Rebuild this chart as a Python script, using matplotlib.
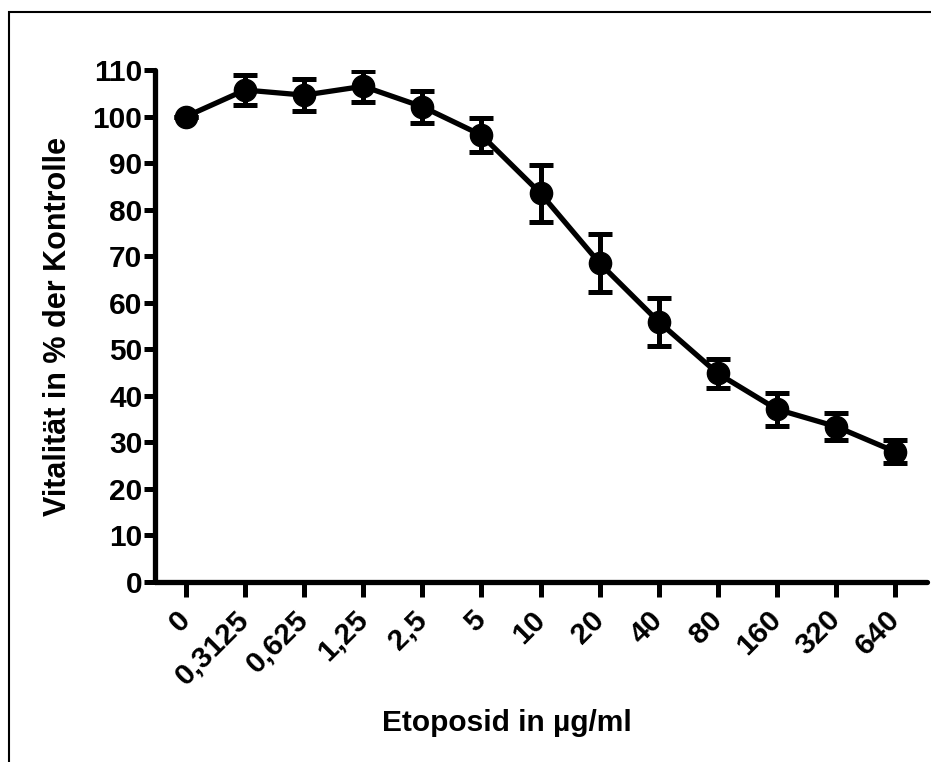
import numpy as np
import matplotlib
matplotlib.use("Agg")
import matplotlib.pyplot as plt
from matplotlib.patches import Rectangle

plt.rcParams['font.family'] = ['Liberation Sans', 'DejaVu Sans']
plt.rcParams['font.weight'] = 'bold'

# Etoposid concentrations (ug/ml) and viability in % of control
conc_labels = ["0", "0,3125", "0,625", "1,25", "2,5", "5", "10",
               "20", "40", "80", "160", "320", "640"]
viability = [100.0, 105.7, 104.6, 106.5, 102.1, 96.0, 83.5,
             68.5, 55.9, 44.8, 37.1, 33.4, 28.0]
error = [0.0, 3.2, 3.5, 3.3, 3.4, 3.6, 6.1,
         6.2, 5.2, 3.2, 3.5, 2.9, 2.5]

x = np.arange(len(conc_labels))

fig = plt.figure(figsize=(9.31, 7.62), dpi=100)
ax = fig.add_axes([155/931, 1 - 582/762, (927 - 155)/931, (582 - 70)/762])

ax.errorbar(x, viability, yerr=error, color='black', lw=3.8,
            marker='o', ms=16, capsize=8.5, capthick=3.6, elinewidth=3.6,
            zorder=3)

ax.set_xlim(-0.525, 12.54)
ax.set_ylim(0, 110)
ax.set_yticks(np.arange(0, 111, 10))
ax.set_xticks(x)
ax.set_xticklabels(conc_labels, rotation=45, ha='right', va='center',
                   rotation_mode='anchor')

for side in ['top', 'right']:
    ax.spines[side].set_visible(False)
for side in ['left', 'bottom']:
    ax.spines[side].set_linewidth(3.8)
    ax.spines[side].set_capstyle('round')

ax.tick_params(axis='both', width=3.6, labelsize=21.5)
ax.tick_params(axis='y', length=8, pad=1)
ax.tick_params(axis='x', length=11, pad=13)
for lbl in ax.get_xticklabels() + ax.get_yticklabels():
    lbl.set_fontweight('bold')

fig.text(507/931, 1 - 723/762, "Etoposid in µg/ml", ha='center', va='center',
         fontsize=21.5, fontweight='bold')
fig.text(58/931, 1 - 326/762, "Vitalität in % der Kontrolle", ha='center',
         va='center', rotation=90, fontsize=22, fontweight='bold')

# outer frame
fig.patches.append(Rectangle((9/931, -0.1), 1.2, 1 - 12/762 + 0.1,
                             transform=fig.transFigure, fill=False,
                             edgecolor='black', lw=1.5))

fig.savefig("out.png", dpi=100)
